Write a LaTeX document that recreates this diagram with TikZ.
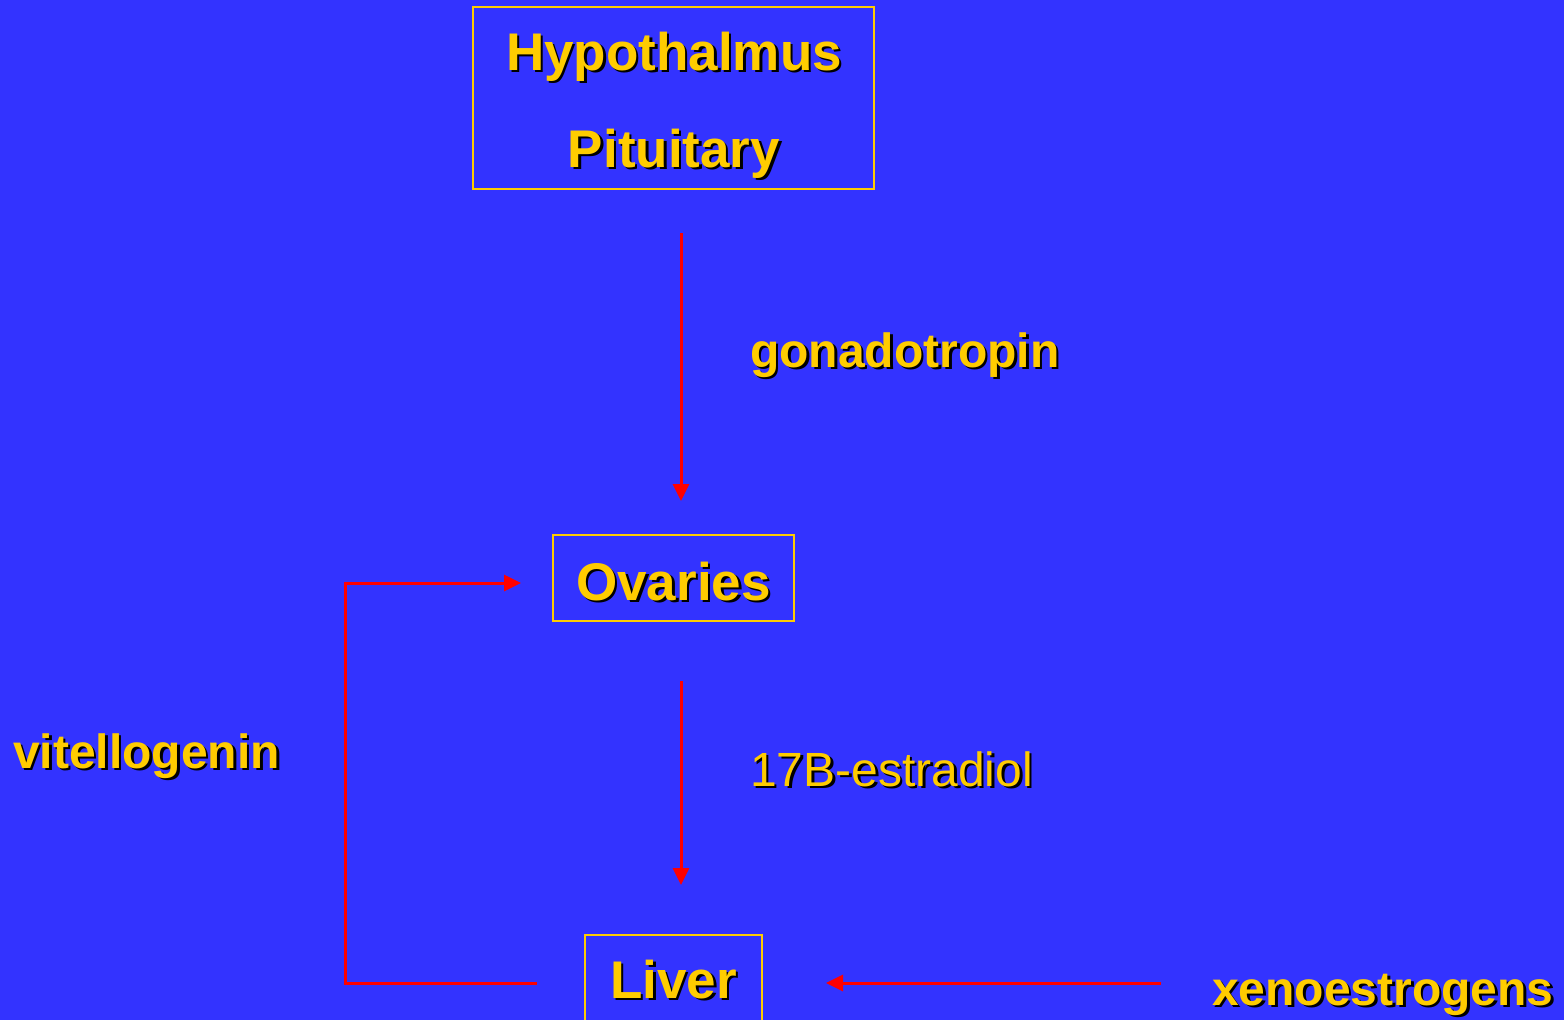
\documentclass[tikz,border=0pt]{standalone}
\usepackage{fontspec}
\setmainfont{Liberation Sans}
\usetikzlibrary{arrows.meta}
\definecolor{slidebg}{HTML}{3333FF}
\definecolor{gold}{HTML}{FFCC00}
\newcommand{\shd}[1]{\leavevmode\rlap{\kern2.5pt\raisebox{-2.5pt}{\color{black}#1}}#1}

\begin{document}
\begin{tikzpicture}[x=1pt, y=-1pt, >={Triangle[length=17pt, width=16pt]},
	organ/.style={draw=gold, line width=2pt, text=gold, inner sep=0pt, font=\fontsize{53}{64}\selectfont\bfseries},
	hormone/.style={text=gold, inner sep=0pt, anchor=base west, font=\fontsize{48}{58}\selectfont\bfseries},
	flow/.style={->, red, line width=3pt}]
	\fill[slidebg] (0,0) rectangle (1564,1020);
	\useasboundingbox (0,0) rectangle (1564,1020);
	% boxes
	\node[organ, minimum width=401pt, minimum height=182pt] (hp) at (673.5,98) {};
	\node[organ, draw=none, anchor=base] (hyp) at (674,70) {\shd{Hypothalmus}};
	\node[organ, draw=none, anchor=base] (pit) at (674,167) {\shd{Pituitary}};
	\node[organ, minimum width=241pt, minimum height=86pt, text height=44pt, text depth=0pt] (ov) at (673.5,578) {\shd{Ovaries}};
	\node[organ, minimum width=177pt, minimum height=89pt, text height=37pt, text depth=0pt] (lv) at (673.5,979.5) {\shd{Liver}};
	% labels
	\node[hormone] (gon) at (750,367) {\shd{gonadotropin}};
	\node[hormone, font=\fontsize{48}{58}\selectfont] (est) at (750,786) {\shd{17B-estradiol}};
	\node[hormone] (vit) at (13,768) {\shd{vitellogenin}};
	\node[hormone] (xen) at (1212,1005) {\shd{xenoestrogens}};
	% arrows
	\coordinate (vs) at (537,983);
	\coordinate (vc) at (345,983);
	\coordinate (ve) at (521,583);
	\coordinate (xs) at (1161,983);
	\coordinate (xe) at (826,983);
	\draw[flow] ([xshift=7.5pt, yshift=-43pt]hp.south) -- ([xshift=7.5pt, yshift=33pt]ov.north);
	\draw[flow] ([xshift=7.5pt, yshift=-59pt]ov.south) -- ([xshift=7.5pt, yshift=49pt]lv.north);
	\draw[flow] (vs) -- (vc) |- (ve);
	\draw[flow] (xs) -- (xe);
\end{tikzpicture}
\end{document}
